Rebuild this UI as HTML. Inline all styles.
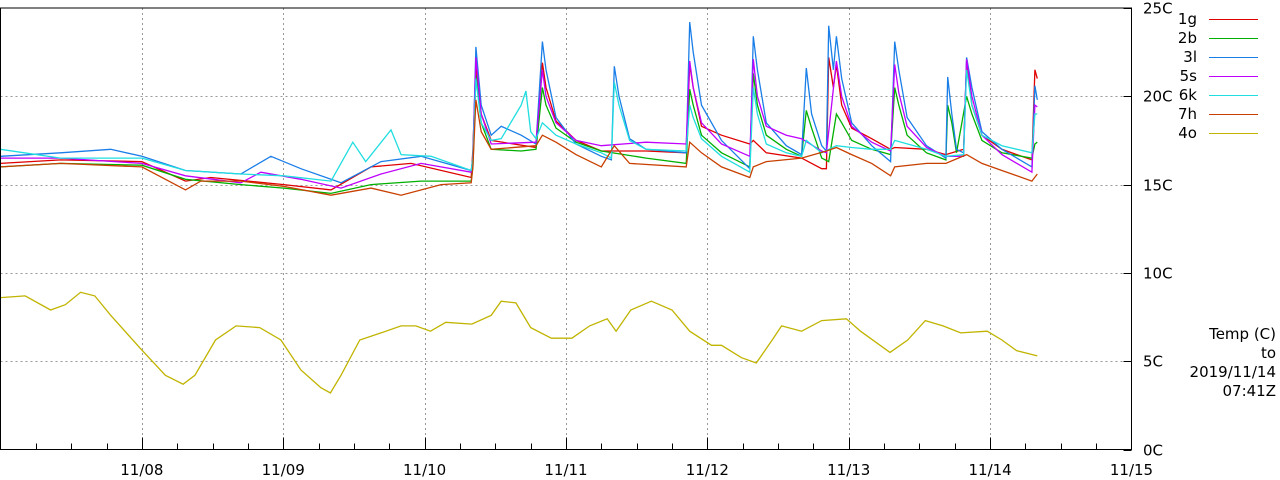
<!DOCTYPE html>
<html><head><meta charset="utf-8"><style>
html,body{margin:0;padding:0;background:#fff;width:1280px;height:480px;overflow:hidden}
svg text{font-family:"DejaVu Sans","Liberation Sans",sans-serif;font-size:15px;fill:#000}
</style></head><body>
<svg id="chart" width="1280" height="480" viewBox="0 0 1280 480" xmlns="http://www.w3.org/2000/svg">
<g id="grid"></g>
<g id="series"></g>
<g id="axes"></g>
<g id="legend"></g>
<text x="1276" y="339" text-anchor="end">Temp (C)</text>
<text x="1276" y="358" text-anchor="end">to</text>
<text x="1276" y="377" text-anchor="end">2019/11/14</text>
<text x="1276" y="396" text-anchor="end">07:41Z</text>
</svg>
<script>
// hours since 11/07 00:00 , temperature C
const xTickLabels = ["11/08","11/09","11/10","11/11","11/12","11/13","11/14","11/15"];
const yTickLabels = ["0C","5C","10C","15C","20C","25C"];
const yTickValues = [0,5,10,15,20,25];
const seriesNames = ["1g","2b","3l","5s","6k","7h","4o"];
const seriesColors = ["#e00000","#00b000","#1a7ee8","#c000ff","#20dde0","#c84000","#c0b400"];
const s1g = [[0,16.2],[10.2,16.4],[24,16.3],[31.4,15.2],[35.7,15.4],[48.1,15.0],[56.1,14.7],[62.9,16.0],[69.7,16.2],[79.9,15.4],[80.2,17],[80.7,21.8],[81.6,19],[83.3,17.5],[90.9,17.1],[92,21.9],[92.6,20.5],[94.3,18.6],[97.7,17.5],[102,16.9],[109.6,16.9],[116.4,16.8],[117,21.8],[117.6,20.5],[119,18.3],[122.4,17.8],[127.2,17.3],[127.8,17.5],[130,16.8],[136,16.5],[139.4,15.9],[140.2,15.9],[140.6,22.2],[141.4,20.5],[141.9,21.8],[142.8,19.5],[144.5,18.2],[147.9,17.6],[151.1,17.0],[151.8,17.1],[157.2,17.0],[160.5,16.7],[163.5,17.0],[164,22.0],[164.9,19.5],[166.6,17.8],[170,17.0],[175.1,16.4],[175.6,21.5],[176,21]];
const s2b = [[0,16.0],[10.2,16.2],[24,16.1],[31.4,15.3],[40.8,15.0],[48.1,14.8],[56.1,14.5],[62.9,15.0],[71.4,15.2],[79.9,15.2],[80.2,16],[80.7,21.2],[81.6,18.5],[83.3,17.0],[88.4,16.9],[90.9,17.0],[92,20.5],[92.6,19.5],[94.3,18.2],[97.7,17.4],[102,16.9],[109.6,16.5],[116.4,16.2],[117,20.4],[117.6,19.5],[119,17.8],[122.4,16.8],[127.2,16.0],[127.8,21.3],[128.5,19.5],[130,17.8],[133.4,17.0],[136,16.6],[136.8,19.2],[137.7,18.2],[139.4,16.5],[140.6,16.3],[141.9,19.0],[142.8,18.5],[144.5,17.5],[147.9,17.0],[151.1,16.7],[151.8,20.5],[152.5,19.5],[153.9,17.8],[157.2,16.8],[160.5,16.4],[160.8,19.5],[161.5,18.5],[162.3,16.8],[164,20.0],[164.9,19],[166.6,17.5],[170,16.8],[175.1,16.5],[175.6,17.3],[176,17.4]];
const s3l = [[0,16.6],[10.2,16.8],[18.7,17.0],[24,16.6],[31.4,15.8],[40.8,15.6],[45.9,16.6],[51,15.9],[57.8,15.1],[64.6,16.3],[71.4,16.6],[79.9,15.8],[80.2,16.5],[80.7,22.8],[81.6,19.5],[83.3,17.8],[85,18.3],[88.4,17.8],[90.9,17.3],[92,23.1],[92.6,21.5],[94.3,18.8],[97.7,17.3],[102,16.6],[103.7,16.4],[104.2,21.7],[105,20],[106.8,17.6],[109.6,17.0],[116.4,16.8],[117,24.2],[117.6,22.5],[119,19.5],[122.4,17.5],[127.2,15.9],[127.8,23.4],[128.5,21.5],[130,18.5],[133.4,17.2],[136,16.7],[136.8,21.6],[137.7,19],[139.4,17.2],[140.2,16.9],[140.6,24.0],[141.4,21.5],[141.9,23.4],[142.8,21],[144.5,18.5],[147.9,17.2],[151.1,16.3],[151.8,23.1],[152.5,21.5],[153.9,18.8],[157.2,17.2],[160.5,16.5],[160.8,21.1],[161.5,19],[162.3,17],[163.5,16.8],[164,22.2],[164.9,20.5],[166.6,18],[170,17],[175.1,16.0],[175.6,20.6],[176,19.8]];
const s5s = [[0,16.5],[10.2,16.5],[24,16.2],[31.4,15.5],[40.8,15.1],[44.2,15.7],[51,15.3],[57.8,14.8],[64.6,15.6],[71.4,16.2],[79.9,15.7],[80.2,16.5],[80.7,22.2],[81.6,19],[83.3,17.3],[90.9,17.4],[92,21.5],[92.6,20],[94.3,18.5],[97.7,17.5],[102,17.2],[109.6,17.4],[116.4,17.3],[117,22.0],[117.6,20.5],[119,18.5],[122.4,17.3],[127.2,16.6],[127.8,22.1],[128.5,20],[130,18.3],[133.4,17.8],[136,17.6],[139.4,16.9],[140.2,16.8],[141.9,22.0],[142.8,20],[144.5,18.3],[147.9,17.4],[151.1,16.9],[151.8,21.8],[152.5,20.2],[153.9,18.3],[157.2,17.1],[160.5,16.6],[163.5,16.6],[164,22.1],[164.9,20],[166.6,17.8],[170,16.7],[175.1,15.7],[175.6,19.5],[176,19.4]];
const s6k = [[0,17.0],[10.2,16.5],[24,16.5],[31.4,15.8],[40.8,15.6],[48.1,15.5],[56.1,15.2],[59.8,17.4],[62,16.3],[66.3,18.1],[68,16.7],[73.1,16.6],[79.9,15.8],[80.2,16.5],[80.7,21.0],[81.6,18.5],[83.3,17.5],[85,17.6],[88.4,19.5],[89.2,20.3],[90,18],[90.9,17.6],[92,18.5],[94.3,17.8],[97.7,17.3],[102,16.8],[103.7,16.5],[104.2,20.8],[105,19.5],[106.8,17.5],[109.6,17.0],[116.4,16.9],[117,19.5],[117.6,18.8],[119,17.6],[122.4,16.6],[127.2,15.7],[127.8,20.5],[128.5,19],[130,17.3],[133.4,16.8],[136,16.6],[136.8,17.5],[139.4,16.8],[141.9,17.2],[144.5,17.1],[147.9,17.0],[151.1,17.0],[151.8,17.5],[157.2,17.0],[160.5,16.6],[163.5,16.7],[164,21.5],[164.9,19.5],[166.6,17.8],[170,17.2],[175.1,16.8],[175.6,19],[176,19]];
const s7h = [[0,16.0],[10.2,16.2],[24,16.0],[31.4,14.7],[34,15.2],[40.8,15.2],[48.1,14.9],[56.1,14.4],[62.9,14.8],[68,14.4],[74.8,15.0],[79.9,15.1],[80.2,16],[80.7,19.8],[81.6,18],[83.3,17.0],[90.9,17.2],[92,17.8],[94.3,17.4],[97.7,16.7],[102,16.0],[104.2,17.2],[106.8,16.2],[116.4,16.0],[117,17.4],[119,16.8],[122.4,16.0],[127.2,15.4],[127.8,16.0],[130,16.3],[136,16.5],[140.2,16.9],[141.9,17.1],[144.5,16.7],[147.9,16.2],[151.1,15.5],[151.8,16.0],[157.2,16.2],[160.5,16.2],[164,16.7],[166.6,16.2],[170,15.8],[175.1,15.2],[176,15.6]];
const s4o = [[0,8.6],[4.2,8.7],[8.5,7.9],[11,8.2],[13.6,8.9],[16,8.7],[18.7,7.6],[23.8,5.7],[28,4.2],[31,3.7],[33,4.2],[36.5,6.2],[40,7.0],[44,6.9],[47.6,6.2],[51,4.5],[54.4,3.5],[56,3.2],[57.8,4.2],[61,6.2],[64.6,6.6],[68,7.0],[70.5,7.0],[73,6.7],[75.6,7.2],[80,7.1],[83.3,7.6],[85,8.4],[87.5,8.3],[90,6.9],[93.5,6.3],[97,6.3],[100,7.0],[103,7.4],[104.5,6.7],[107,7.9],[110.5,8.4],[114,7.9],[117,6.7],[120.7,5.9],[122.4,5.9],[125.8,5.2],[128.3,4.9],[131,6.2],[132.6,7.0],[136,6.7],[139.4,7.3],[143.6,7.4],[146,6.7],[151,5.5],[154,6.2],[157,7.3],[160,7.0],[163,6.6],[167.5,6.7],[170,6.2],[172.5,5.6],[176,5.3]];
const allSeries = [s1g,s2b,s3l,s5s,s6k,s7h,s4o];

const X0=0.5, X1=1131.5, YT=8, YB=449.5;
const xs = h => X0 + (X1-X0)*h/192;
const ys = t => YB - (YB-YT)*t/25;
const NS="http://www.w3.org/2000/svg";
function mk(tag, parent, attrs){const e=document.createElementNS(NS,tag);for(const k in attrs)e.setAttribute(k,attrs[k]);parent.appendChild(e);return e;}
const grid=document.getElementById('grid'), axes=document.getElementById('axes'), ser=document.getElementById('series'), leg=document.getElementById('legend');

yTickValues.forEach((v,i)=>{
  const y=Math.round(ys(v))+0.5;
  if(v>0&&v<25){const l=mk('line',grid,{x1:X0,x2:X1,y1:y,y2:y,stroke:'#999','stroke-dasharray':'2,3'});
  
  }
  const t=mk('text',axes,{x:1143,y:y+5});
  t.textContent=yTickLabels[i];
  
  
  mk('line',axes,{x1:X1-8,x2:X1,y1:y,y2:y,stroke:'#000'});
});
for(let h=6;h<192;h+=6){
  const x=Math.round(xs(h))+0.5, major=h%24===0;
  if(major){const g=mk('line',grid,{x1:x,x2:x,y1:YT,y2:YB,stroke:'#999','stroke-dasharray':'2,3'});
    
    }
  mk('line',axes,{x1:x,x2:x,y1:YB,y2:YB-(major?12:6),stroke:'#000'});
}
xTickLabels.forEach((lab,i)=>{
  const t=mk('text',axes,{x:xs((i+1)*24),y:475,'text-anchor':'middle'});
  t.textContent=lab;
  
  
});
mk('rect',axes,{x:X0,y:YT,width:X1-X0,height:YB-YT,fill:'none',stroke:'#000'});

allSeries.forEach((d,i)=>{
  let p='';d.forEach((pt,j)=>{p+=(j?'L':'M')+xs(pt[0]).toFixed(1)+','+ys(pt[1]).toFixed(1);});
  const path=mk('path',ser,{d:p,fill:'none',stroke:seriesColors[i],'stroke-width':1.3});
  
  
  const y=19+19*i;
  const t=mk('text',leg,{x:1197,y:y+5,'text-anchor':'end'});
  t.textContent=seriesNames[i];
  
  
  const ln=mk('line',leg,{x1:1209,x2:1258,y1:y+0.5,y2:y+0.5,stroke:seriesColors[i]});
  
  
});
</script>
</body></html>
